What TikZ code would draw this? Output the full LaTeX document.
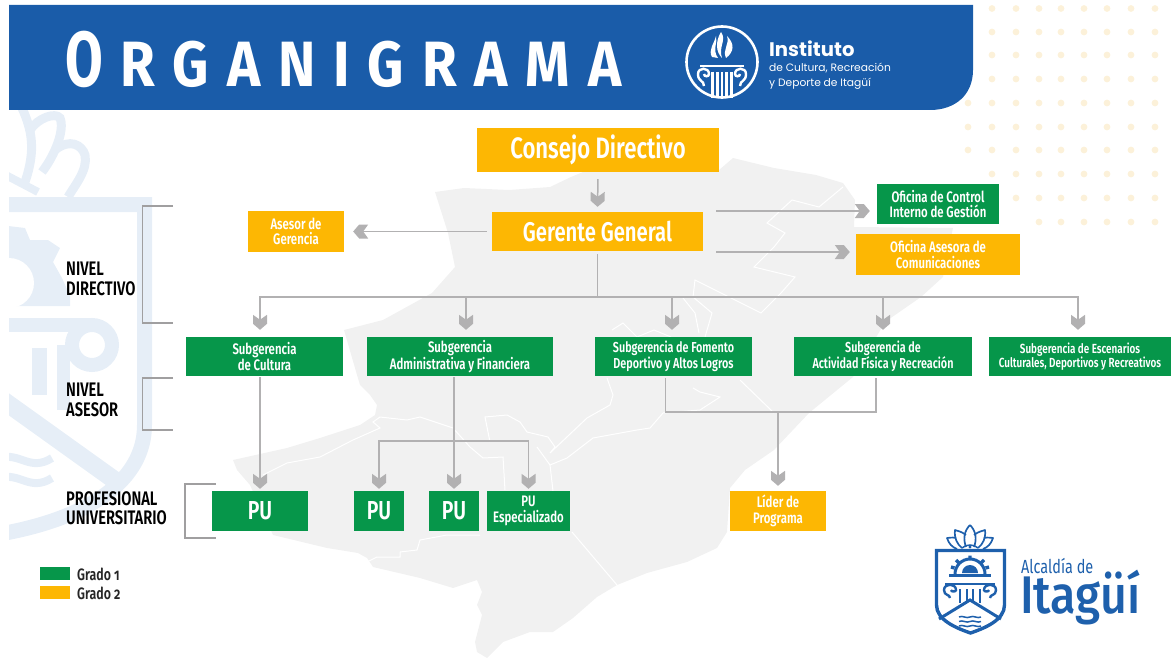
\documentclass[tikz,border=0pt]{standalone}
\usepackage{fontspec}
\setmainfont{Fira Sans}[FakeStretch=0.76]
\newfontfamily\logofont{Poppins}
\newfontfamily\itafont{Fira Sans Medium}[FakeStretch=0.88]
\newfontfamily\titlefont{Fira Sans}[FakeStretch=0.88]
\newfontfamily\titleO{Fira Sans}[FakeStretch=0.70]
\newfontfamily\boxf{Fira Sans SemiBold}[FakeStretch=0.75]
\usetikzlibrary{arrows.meta}
\definecolor{gr}{HTML}{06964A}
\definecolor{ye}{HTML}{FDB703}
\definecolor{hb}{HTML}{1A5CA9}
\definecolor{ln}{HTML}{B2B1B2}
\definecolor{mapc}{HTML}{F1F1F1}
\definecolor{wm}{HTML}{E6EEF7}
\definecolor{dotc}{HTML}{FCF1D9}
\definecolor{lb}{HTML}{1E60AC}
\pgfdeclarearrow{
  name=Chev,
  setup code={\pgfarrowssettipend{0pt}\pgfarrowssetlineend{-8pt}\pgfarrowssetvisualbackend{-15pt}\pgfarrowssetbackend{-15pt}\pgfarrowshullpoint{0pt}{0pt}\pgfarrowsupperhullpoint{-15pt}{7pt}},
  drawing code={\pgfpathmoveto{\pgfpoint{0pt}{0pt}}\pgfpathlineto{\pgfpoint{-6pt}{7pt}}\pgfpathlineto{\pgfpoint{-15pt}{7pt}}\pgfpathlineto{\pgfpoint{-10pt}{0pt}}\pgfpathlineto{\pgfpoint{-15pt}{-7pt}}\pgfpathlineto{\pgfpoint{-6pt}{-7pt}}\pgfpathclose\pgfusepathqfill}
}
\tikzset{
  x=1pt,y=-1pt,
  gbox/.style={rectangle,fill=gr,text=white,align=center,inner sep=0pt,font=\boxf\fontsize{15.2}{15.5}\selectfont},
  ybox/.style={gbox,fill=ye},
  conn/.style={draw=ln,line width=1.5pt},
  arr/.style={conn,-{Chev}},
  brk/.style={draw=ln!90!black,line width=1.4pt},
  lev/.style={anchor=west,align=left,inner sep=0pt,text=black,font=\boxf\fontsize{19.6}{19.5}\selectfont},
  leg/.style={anchor=west,inner sep=0pt,text=black!85,font=\boxf\fontsize{16.5}{18}\selectfont\addfontfeature{Numbers=OldStyle}},
  wmk/.style={draw=wm,line width=#1},
  wh/.style={draw=white,line width=1pt},
  lg/.style={draw=lb,line width=#1},
  wl/.style={draw=white,line width=#1},
}
\begin{document}
\begin{tikzpicture}
\useasboundingbox (0,0) rectangle (1172,658);
% map
\fill[mapc] (435,192) -- (464,188) -- (509,190) -- (550,187) -- (571,177) -- (600,165) -- (719,170) -- (733,158) -- (774,168) -- (816,175) -- (843,183) -- (855,200) -- (854,227) -- (953,228) -- (946,260) -- (943,277) -- (921,297) -- (885,322) -- (853,377) -- (809,413) -- (774,450) -- (745,470) -- (730,488) -- (727,532) -- (717,548) -- (687,562) -- (647,573) -- (617,585) -- (597,597) -- (573,618) -- (553,632) -- (530,632) -- (503,642) -- (487,658) -- (477,652) -- (475,642) -- (482,615) -- (477,605) -- (482,592) -- (477,580) -- (453,588) -- (420,578) -- (373,567) -- (367,558) -- (358,553) -- (327,548) -- (273,535) -- (250,485) -- (237,470) -- (233,460) -- (287,448) -- (320,438) -- (360,425) -- (375,415) -- (377,405) -- (370,395) -- (360,385) -- (357,375) -- (344,330) -- (383,320) -- (432,293) -- (455,267) -- (448,233) -- cycle;
\draw[wh] (263,475) -- (287,463) -- (320,457) -- (353,440) -- (380,428) -- (373,422) -- (380,417) -- (407,420) -- (420,417) -- (453,428) -- (470,447) -- (483,458) -- (503,457) -- (505,490);
\draw[wh] (490,442) -- (485,417) -- (507,415) -- (520,422) -- (527,432) -- (548,437) -- (555,447) -- (550,453) -- (587,418) -- (610,405) -- (613,395) -- (607,378);
\draw[wh] (537,447) -- (550,465) -- (567,458) -- (593,438) -- (637,430) -- (650,428) -- (663,413) -- (700,410) -- (720,397) -- (700,392) -- (693,388);
\draw[wh] (550,465) -- (553,491);
\draw[wh] (572,532) -- (617,585);
\draw[wh] (480,535) -- (447,535) -- (420,540) -- (417,550) -- (400,552) -- (400,557) -- (377,557) -- (367,562);
\draw[wh] (843,187) -- (819,207) -- (792,200) -- (767,223) -- (785,233) -- (774,247) -- (754,267) -- (795,277) -- (781,293) -- (761,313) -- (695,280) -- (693,297) -- (712,313) -- (705,337);
\draw[wh] (683,298) -- (695,313) -- (699,333);
\draw[wh] (612,330) -- (623,323) -- (637,337) -- (654,330) -- (671,337);
\draw[wh] (774,413) -- (740,380);
% watermark
\begin{scope}
\clip (9,110) rectangle (200,560);
\draw[wmk=15pt] (0,204.5) -- (144.5,204.5) -- (144.5,425) .. controls (144.5,480) and (90,518) .. (0,534);
\draw[wmk=18pt] (0,398) -- (120,484);
\draw[wmk=14pt] (0,325) -- (92,325);
\draw[wmk=14pt] (92,345) circle (20);
\draw[wmk=13pt] (63,345) -- (63,410);
\fill[wm] (32,348) rectangle (47,395);
\fill[wm] (0,225) -- (25,228) -- (30,240) -- (48,240) -- (60,248) -- (53,262) -- (62,278) -- (70,296) -- (70,306) -- (0,306) -- cycle;
\fill[white] (9,283) circle (25);
\draw[wmk=9pt] (22,108) .. controls (32,130) and (36,150) .. (25,182);
\draw[wmk=9pt] (30,130) .. controls (38,118) and (55,112) .. (60,118) .. controls (65,130) and (55,155) .. (42,172);
\draw[wmk=9pt] (55,150) .. controls (70,138) and (82,145) .. (85,155) .. controls (88,170) and (75,185) .. (68,197);
\draw[wmk=8pt] (0,172) -- (38,192);
\draw[wmk=8pt] (0,458) .. controls (20,452) and (30,472) .. (52,458);
\draw[wmk=8pt] (0,478) .. controls (20,472) and (30,492) .. (52,478);
\end{scope}
% dots
\foreach \y/\st in {8.5/992,32/992,55/992,79/992,103/968,127/968,150/968,174/992,198/1016,222/1039}{
  \foreach \x in {968,992,1016,1039,1061,1084,1107,1131,1155}{
    \ifdim\x pt<\st pt\relax\else\fill[dotc] (\x,\y) circle (3.4);\fi
  }
}
% header
\fill[hb] (9,5) -- (973,5) -- (973,70) .. controls (973,95) and (955,110) .. (930,110) -- (9,110) -- cycle;
\node (title) [anchor=base west,inner sep=0pt,text=white] at (65,87) {\bfseries{\titleO\fontsize{78}{78}\selectfont O}\hspace{18pt}{\titlefont\fontsize{64}{64}\selectfont\addfontfeature{LetterSpace=28}RGANIGRAMA}};
% institute logo
\draw[wl=2.6pt] (722,62) circle (35.5);
\fill[white] (712,57) .. controls (708,50) and (714,44) .. (716,36) .. controls (718,42) and (712,50) .. (718,58) -- cycle;
\fill[white] (721,32) .. controls (727,40) and (718,47) .. (722,58) .. controls (716,52) and (715,42) .. (721,32) -- cycle;
\fill[white] (726,58) .. controls (722,50) and (730,44) .. (727,36) .. controls (735,44) and (734,52) .. (726,58) -- cycle;
\draw[wl=2.4pt] (700,66) -- (744,66);
\draw[wl=2.4pt] (704,86) .. controls (704,80) and (698,82) .. (698,74) .. controls (698,67) and (709,67) .. (709,74) .. controls (709,77) and (704,77) .. (704,74);
\draw[wl=2.4pt] (740,86) .. controls (740,80) and (746,82) .. (746,74) .. controls (746,67) and (735,67) .. (735,74) .. controls (735,77) and (740,77) .. (740,74);
\foreach \x in {712.5,717.5,722,726.5,731.5}{\draw[wl=2.2pt] (\x,72) -- (\x,98);}
\node (inst1) [anchor=base west,inner sep=0pt,text=white,font=\logofont\fontsize{19.6}{20}\selectfont\bfseries] at (769,57) {Instituto};
\node (inst2) [anchor=base west,inner sep=0pt,text=white,font=\logofont\fontsize{10.7}{12}\selectfont] at (769,72) {de Cultura, Recreación};
\node (inst3) [anchor=base west,inner sep=0pt,text=white,font=\logofont\fontsize{10.7}{12}\selectfont] at (769,87) {y Deporte de Itagüí};
% boxes
\node[ybox,minimum width=242pt,minimum height=44pt,font=\boxf\fontsize{29.5}{30}\selectfont] (consejo) at (598,150) {\raisebox{-3pt}{Consejo Directivo}};
\node[ybox,minimum width=211pt,minimum height=39pt,font=\boxf\fontsize{27}{28}\selectfont] (gerente) at (597.5,231.5) {\raisebox{-3.5pt}{Gerente General}};
\node[ybox,minimum width=96pt,minimum height=41pt] (asesor) at (296,231.5) {Asesor de\\Gerencia};
\node[gbox,minimum width=122pt,minimum height=40pt] (control) at (938,204) {Oficina de Control\\Interno de Gestión};
\node[ybox,minimum width=164pt,minimum height=41pt] (asesora) at (938,254.5) {Oficina Asesora de\\Comunicaciones};
\node[gbox,minimum width=157pt,minimum height=39pt] (cultura) at (264.5,356.5) {Subgerencia\\de Cultura};
\node[gbox,minimum width=186pt,minimum height=39pt] (admin) at (460,356.5) {Subgerencia\\Administrativa y Financiera};
\node[gbox,minimum width=157pt,minimum height=39pt,font=\boxf\fontsize{14.4}{14.5}\selectfont] (fomento) at (673.5,356.5) {Subgerencia de Fomento\\Deportivo y Altos Logros};
\node[gbox,minimum width=178pt,minimum height=39pt,font=\boxf\fontsize{14.4}{14.5}\selectfont] (actividad) at (883,356.5) {Subgerencia de\\Actividad Física y Recreación};
\node[gbox,minimum width=182pt,minimum height=39pt,font=\boxf\fontsize{13.2}{14}\selectfont] (escenarios) at (1080,356.5) {Subgerencia de Escenarios\\Culturales, Deportivos y Recreativos};
\node[gbox,minimum width=96pt,minimum height=40pt,font=\boxf\fontsize{26}{26}\selectfont] (pua) at (260,511) {PU};
\node[gbox,minimum width=50pt,minimum height=40pt,font=\boxf\fontsize{26}{26}\selectfont] (pub) at (379,511) {PU};
\node[gbox,minimum width=50pt,minimum height=40pt,font=\boxf\fontsize{26}{26}\selectfont] (puc) at (454,511) {PU};
\node[gbox,minimum width=83pt,minimum height=40pt] (pud) at (528.5,511) {PU\\Especializado};
\node[ybox,minimum width=96pt,minimum height=40pt] (lider) at (778,511) {Líder de\\Programa};
% connectors
\draw[arr,shorten <=7pt,shorten >=5pt] (consejo.south) -- (gerente.north);
\draw[arr,shorten <=5pt,shorten >=9pt] (gerente.west) -- (asesor.east);
\draw[arr] ([shift={(13,-20.5)}]gerente.east) -- ([shift={(-7,7)}]control.west);
\draw[arr] ([shift={(13,20.5)}]gerente.east) -- ([shift={(-6,-2.5)}]asesora.west);
\coordinate (bus) at (597.5,297);
\draw[conn,shorten <=3pt] (gerente.south) -- (bus);
\draw[arr] (bus) -| ([shift={(-4.5,-7)}]cultura.north);
\draw[arr] (bus) -| ([shift={(6,-7)}]admin.north);
\draw[arr] (bus) -| ([shift={(-1.5,-7)}]fomento.north);
\draw[arr] (bus) -| ([shift={(0,-7)}]actividad.north);
\draw[arr] (bus) -| ([shift={(-2,-7)}]escenarios.north);
\draw[arr,shorten <=1pt,shorten >=2pt] ([xshift=-4.5pt]cultura.south) -- (pua.north);
\draw[arr,shorten <=1pt,shorten >=2pt] ([xshift=-6pt]admin.south) -- (puc.north);
\coordinate (branch) at (454,441);
\draw[arr,shorten >=2pt] (branch) -| (pub.north);
\draw[arr,shorten >=2pt] (branch) -| (pud.north);
\coordinate (join) at (778,412);
\draw[conn,shorten <=2pt] ([xshift=-8pt]fomento.south) |- (join);
\draw[conn,shorten <=2pt] ([xshift=-7pt]actividad.south) |- (join);
\draw[arr,shorten >=5pt] (join) -- (lider.north);
% brackets
\draw[brk] (173,206) -- (142.5,206) -- (142.5,323) -- (173,323);
\draw[brk] (173,378) -- (142.5,378) -- (142.5,430) -- (173,430);
\draw[brk] (215.5,484) -- (185,484) -- (185,538) -- (215.5,538);
% levels
\node[lev] (l1) at (66,279) {NIVEL\\DIRECTIVO};
\node[lev] (l2) at (66,400) {NIVEL\\ASESOR};
\node[lev] (l3) at (66,508) {PROFESIONAL\\UNIVERSITARIO};
% legend
\fill[gr] (40,567) rectangle (70,580);
\fill[ye] (40,586) rectangle (70,599);
\node[leg] (g1) at (77,574) {Grado 1};
\node[leg] (g2) at (77,593) {Grado 2};
% alcaldia logo
\draw[lg=3.4pt,line join=miter] (936.5,550.5) -- (1004.5,550.5) -- (1004.5,605) .. controls (1004.5,620) and (985,628) .. (970.5,633) .. controls (956,628) and (936.5,620) .. (936.5,605) -- cycle;
% crown
\draw[lg=1.7pt,line join=round] (970,525) .. controls (964,531) and (963,539) .. (966,547) (970,525) .. controls (976,531) and (977,539) .. (974,547);
\draw[lg=1.7pt,line join=round] (966,535) .. controls (961,531) and (957,531) .. (955,530) .. controls (954,538) and (957,544) .. (962,548);
\draw[lg=1.7pt,line join=round] (974,535) .. controls (979,531) and (983,531) .. (985,530) .. controls (986,538) and (983,544) .. (978,548);
\draw[lg=1.7pt,line join=round] (956,538) .. controls (952,537) and (949,538) .. (947,538) .. controls (949,544) and (952,547) .. (957,549);
\draw[lg=1.7pt,line join=round] (984,538) .. controls (988,537) and (991,538) .. (993,538) .. controls (991,544) and (988,547) .. (983,549);
\draw[lg=1.5pt] (962,548) .. controls (966,544) and (974,544) .. (978,548);
\fill[lb] (970,547) circle (1.7);
% gear
\fill[lb] (962,573) arc[start angle=180,end angle=360,radius=8] -- cycle;
\draw[lg=3pt] (955,574) arc[start angle=180,end angle=360,radius=15];
\draw[lg=3.4pt] (970,559) -- (970,555.5) (959,563) -- (956,560) (981,563) -- (984,560) (954.5,568) -- (951,567) (985.5,568) -- (989,567);
\draw[lg=3pt] (949,575) -- (991,575);
\draw[lg=2.6pt] (945,584) -- (995,584);
\draw[lg=2.4pt] (950,598) .. controls (950,594) and (944,596) .. (944,590) .. controls (944,583) and (956,583) .. (956,590) .. controls (956,592) and (951,592) .. (951,590);
\draw[lg=2.4pt] (990,598) .. controls (990,594) and (996,596) .. (996,590) .. controls (996,583) and (984,583) .. (984,590) .. controls (984,592) and (989,592) .. (989,590);
\foreach \x in {960,967,973,980}{\draw[lg=2.2pt] (\x,589) -- (\x,603);}
\draw[lg=3pt] (939,619) -- (970,600) -- (1001,619);
\foreach \y in {617,621.5,626}{\draw[lg=1.5pt] (959,\y) .. controls (963,\y-2) and (966,\y+2) .. (970,\y) .. controls (974,\y-2) and (977,\y+2) .. (981,\y);}
\node (alc) [anchor=base west,inner sep=0pt,text=lb,font=\fontsize{19}{20}\selectfont] at (1021,573) {Alcaldía de};
\node (ita) [anchor=base west,inner sep=0pt,text=lb,font=\itafont\fontsize{53}{53}\selectfont] at (1020,613) {Itagüí};
\end{tikzpicture}
\end{document}
